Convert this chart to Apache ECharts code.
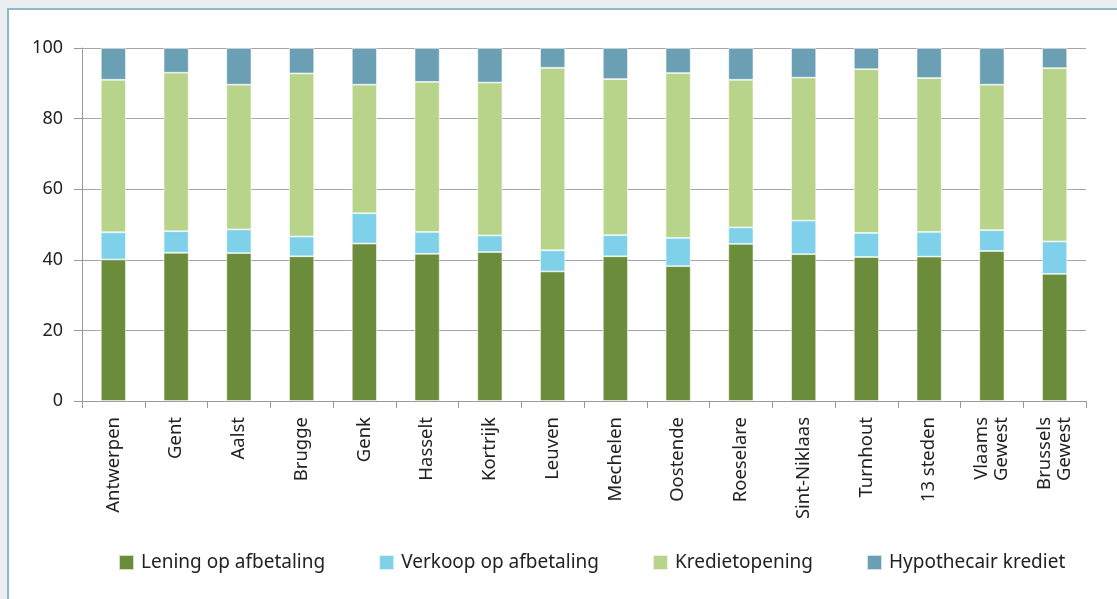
<!DOCTYPE html>
<html>
<head>
<meta charset="utf-8">
<script src="https://cdn.jsdelivr.net/npm/echarts@6/dist/echarts.min.js"></script>
<style>
html,body{margin:0;padding:0;background:#eaeef1;width:1117px;height:599px;overflow:hidden;}
#frame{position:absolute;left:7px;top:8px;width:1200px;height:700px;background:#fff;border-left:2px solid #8db9cc;border-top:2px solid #8db9cc;}
#chart{position:absolute;left:0;top:0;width:1117px;height:599px;}
</style>
</head>
<body>
<div id="frame"></div>
<div id="chart"></div>
<script>
const categories = ["Antwerpen","Gent","Aalst","Brugge","Genk","Hasselt","Kortrijk","Leuven","Mechelen","Oostende","Roeselare","Sint-Niklaas","Turnhout","13 steden","Vlaams\nGewest","Brussels\nGewest"];
const lening = [40.1,42.0,41.9,41.0,44.6,41.7,42.2,36.7,41.0,38.2,44.5,41.6,40.8,40.9,42.5,36.0];
const verkoop = [7.7,6.1,6.7,5.6,8.6,6.2,4.7,6.0,6.0,8.0,4.7,9.5,6.8,7.0,5.9,9.2];
const krediet = [43.2,44.9,41.0,46.2,36.4,42.5,43.3,51.7,44.2,46.7,41.8,40.5,46.4,43.6,41.2,49.1];
const hypo = [9.0,7.0,10.4,7.2,10.4,9.6,9.8,5.6,8.8,7.1,9.0,8.4,6.0,8.5,10.4,5.7];
const yTicks = [0,20,40,60,80,100];

const FONT = "Noto Sans";
const chart = echarts.init(document.getElementById('chart'), null, {renderer:'canvas'});
const mk = (name, data, color) => ({
  name, type:'bar', stack:'total', data, barWidth:'40%',
  itemStyle:{color, borderColor:'rgba(255,255,255,0.7)', borderWidth:0.8},
  emphasis:{disabled:true}
});
chart.setOption({
  animation:false,
  textStyle:{fontFamily:FONT},
  grid:{left:82, right:31, top:48, bottom:198, containLabel:false},
  legend:{
    bottom:22, left:113, itemWidth:15, itemHeight:15, itemGap:53, icon:'rect',
    textStyle:{fontFamily:FONT, fontSize:19, color:'#222', padding:[0,0,0,2]},
    data:['Lening op afbetaling','Verkoop op afbetaling','Kredietopening','Hypothecair krediet']
  },
  xAxis:{
    type:'category', data:categories,
    axisLine:{lineStyle:{color:'#999', width:1}},
    axisTick:{show:true, alignWithLabel:false, length:7, lineStyle:{color:'#999'}},
    axisLabel:{rotate:90, fontSize:18.5, color:'#222', margin:16, lineHeight:20, fontFamily:FONT, interval:0}
  },
  yAxis:{
    type:'value', min:0, max:100, interval:20,
    axisLine:{show:true, lineStyle:{color:'#999', width:1}},
    axisTick:{show:true, length:8, lineStyle:{color:'#999'}},
    splitLine:{lineStyle:{color:'#a6a6a6', width:1}},
    axisLabel:{fontSize:18, color:'#222', margin:19, fontFamily:FONT,
      formatter: v => yTicks.includes(v) ? String(v) : ''}
  },
  series:[
    mk('Lening op afbetaling', lening, '#6b8c3a'),
    mk('Verkoop op afbetaling', verkoop, '#7fd1ea'),
    mk('Kredietopening', krediet, '#b8d48a'),
    mk('Hypothecair krediet', hypo, '#6a9fb4')
  ]
});
</script>
</body>
</html>
